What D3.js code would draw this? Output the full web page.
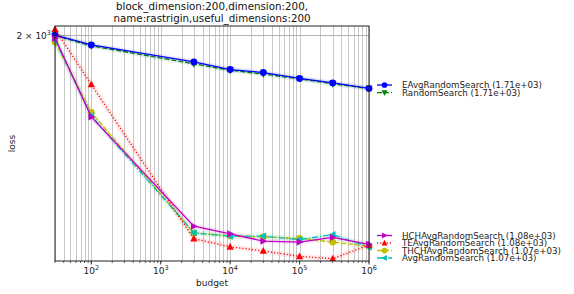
<!DOCTYPE html>
<html><head><meta charset="utf-8">
<script src="https://cdn.jsdelivr.net/npm/d3@7"></script>
<style>body{margin:0;background:#fff}svg{display:block}text{font-family:"DejaVu Sans",sans-serif}</style>
</head><body>
<svg id="c" width="574" height="294"></svg>
<script>
const budgets = [30, 100, 3000, 10000, 30000, 100000, 300000, 1000000];
const seriesNames = ["EAvgRandomSearch","RandomSearch","HCHAvgRandomSearch","TEAvgRandomSearch","THCHAvgRandomSearch","AvgRandomSearch"];
const legendValues = ["1.71e+03","1.71e+03","1.08e+03","1.08e+03","1.07e+03","1.07e+03"];
const eavg  = [2003, 1945, 1850, 1809, 1793, 1762, 1739, 1711];
const rs    = [2000, 1940, 1840, 1805, 1785, 1760, 1735, 1710];
const hch   = [1985, 1573, 1139, 1114, 1090, 1087, 1102, 1080];
const te    = [2038, 1731, 1098, 1072, 1059, 1042, 1035, 1078];
const thch  = [1962, 1594, 1117, 1107, 1104, 1099, 1087, 1074];
const avg   = [1974, 1578, 1117, 1106, 1106, 1095, 1111, 1071];
const xTicks = [100, 1000, 10000, 100000, 1000000];
const yTicks = [2000];
const yDomain = [1028, 2057];
const xDomain = [30, 1000000];

const styles = [
  {c:"#0000ff", dash:null, m:"o"},
  {c:"#008000", dash:"5,2", m:"v"},
  {c:"#bf00bf", dash:null, m:">"},
  {c:"#ff0000", dash:"1.2,2", m:"^"},
  {c:"#bfbf00", dash:"5,2", m:"o"},
  {c:"#00bfbf", dash:"6,2,1.2,2", m:"<"}
];
const data = [eavg, rs, hch, te, thch, avg];

const L=55, R=369, T=26, B=261;
const svg = d3.select("#c");
const x = d3.scaleLog().domain(xDomain).range([L,R]);
const y = d3.scaleLog().domain(yDomain).range([B,T]);

// grid
const minorX = [];
for (let e=1; e<=6; e++) for (let k=1; k<10; k++){ const v=k*Math.pow(10,e); if(v>=xDomain[0]&&v<=xDomain[1]) minorX.push(v); }
svg.append("g").selectAll("line").data(minorX).join("line")
  .attr("x1",d=>Math.round(x(d))+0.5).attr("x2",d=>Math.round(x(d))+0.5).attr("y1",T).attr("y2",B)
  .attr("stroke","#c8c8c8").attr("stroke-width",1);
svg.append("g").selectAll("line").data(yTicks).join("line")
  .attr("x1",L).attr("x2",R).attr("y1",d=>y(d)).attr("y2",d=>y(d))
  .attr("stroke","#b0b0b0").attr("stroke-width",1);

svg.append("clipPath").attr("id","pc").append("rect").attr("x",L-4).attr("y",T-4).attr("width",R-L+8).attr("height",B-T+4);

function marker(g, m, cx, cy, col, s){
  s = s||3.6;
  if (m==="o") g.append("circle").attr("cx",cx).attr("cy",cy).attr("r",s*0.95).attr("fill",col);
  else {
    let pts;
    if (m==="v") pts=[[-s,-s*0.8],[s,-s*0.8],[0,s*1.1]];
    if (m==="^") pts=[[-s,s*0.8],[s,s*0.8],[0,-s*1.1]];
    if (m===">") pts=[[-s*0.8,-s],[-s*0.8,s],[s*1.1,0]];
    if (m==="<") pts=[[s*0.8,-s],[s*0.8,s],[-s*1.1,0]];
    g.append("polygon").attr("points",pts.map(p=>(cx+p[0])+","+(cy+p[1])).join(" ")).attr("fill",col);
  }
}

const line = d3.line().x((d,i)=>x(budgets[i])).y(d=>y(d));
const plot = svg.append("g").attr("clip-path","url(#pc)");
const order = [1,0,4,5,3,2];
order.forEach(si=>{
  plot.append("path").attr("d",line(data[si])).attr("fill","none")
    .attr("stroke",styles[si].c).attr("stroke-opacity",0.08).attr("stroke-width",5);
});
order.forEach(si=>{
  const st=styles[si];
  plot.append("path").attr("d",line(data[si])).attr("fill","none")
    .attr("stroke",st.c).attr("stroke-width",1.3).attr("stroke-dasharray",st.dash);
  const g=plot.append("g");
  data[si].forEach((v,i)=>marker(g, st.m, x(budgets[i]), y(v), st.c));
});

// spines
svg.append("rect").attr("x",L).attr("y",T).attr("width",R-L).attr("height",B-T)
  .attr("fill","none").attr("stroke","#222").attr("stroke-width",1);

// x ticks
svg.append("g").selectAll("line").data(minorX).join("line")
  .attr("x1",d=>x(d)).attr("x2",d=>x(d)).attr("y1",B).attr("y2",B+2).attr("stroke","#222").attr("stroke-width",0.7);
svg.append("g").selectAll("line").data(xTicks).join("line")
  .attr("x1",d=>x(d)).attr("x2",d=>x(d)).attr("y1",B).attr("y2",B+3.5).attr("stroke","#222").attr("stroke-width",0.9);
const xl = svg.append("g").selectAll("text").data(xTicks).join("text")
  .attr("x",d=>x(d)).attr("y",274).attr("text-anchor","middle").attr("font-size",9).attr("fill","#222");
xl.append("tspan").text("10");
xl.append("tspan").attr("dy",-4).attr("font-size",6.5).text(d=>Math.round(Math.log10(d)));

// y ticks
svg.append("g").selectAll("line").data(yTicks).join("line")
  .attr("x1",L-2).attr("x2",L).attr("y1",d=>y(d)).attr("y2",d=>y(d)).attr("stroke","#222");
const yl = svg.append("g").selectAll("text").data(yTicks).join("text")
  .attr("x",L-4).attr("y",d=>y(d)+3).attr("text-anchor","end").attr("font-size",9).attr("fill","#222");
yl.append("tspan").text("2 × 10");
yl.append("tspan").attr("dy",-4).attr("font-size",6.5).text("3");

// axis labels
svg.append("text").attr("x",(L+R)/2).attr("y",286).attr("text-anchor","middle").attr("font-size",9).attr("fill","#222").text("budget");
svg.append("text").attr("transform",`translate(15,${(T+B)/2}) rotate(-90)`).attr("text-anchor","middle").attr("font-size",9).attr("fill","#222").text("loss");

// title
svg.append("text").attr("x",(L+R)/2).attr("y",10).attr("text-anchor","middle").attr("font-size",10.3).attr("fill","#111").text("block_dimension:200,dimension:200,");
svg.append("text").attr("x",(L+R)/2).attr("y",21.5).attr("text-anchor","middle").attr("font-size",10.3).attr("fill","#111").text("name:rastrigin,useful_dimensions:200");

// legends
const legY = [85, 92.7, 235.5, 243, 250.5, 258];
seriesNames.forEach((nm,si)=>{
  const st=styles[si], ly=legY[si];
  const g=svg.append("g");
  g.append("line").attr("x1",377).attr("x2",392).attr("y1",ly).attr("y2",ly)
    .attr("stroke",st.c).attr("stroke-width",1.3).attr("stroke-dasharray",st.dash);
  marker(g, st.m, 384.5, ly, st.c, 3);
  g.append("text").attr("x",402).attr("y",ly+3).attr("font-size",8.7).attr("fill","#222")
    .text(nm+" ("+legendValues[si]+")");
});
</script>
</body></html>
